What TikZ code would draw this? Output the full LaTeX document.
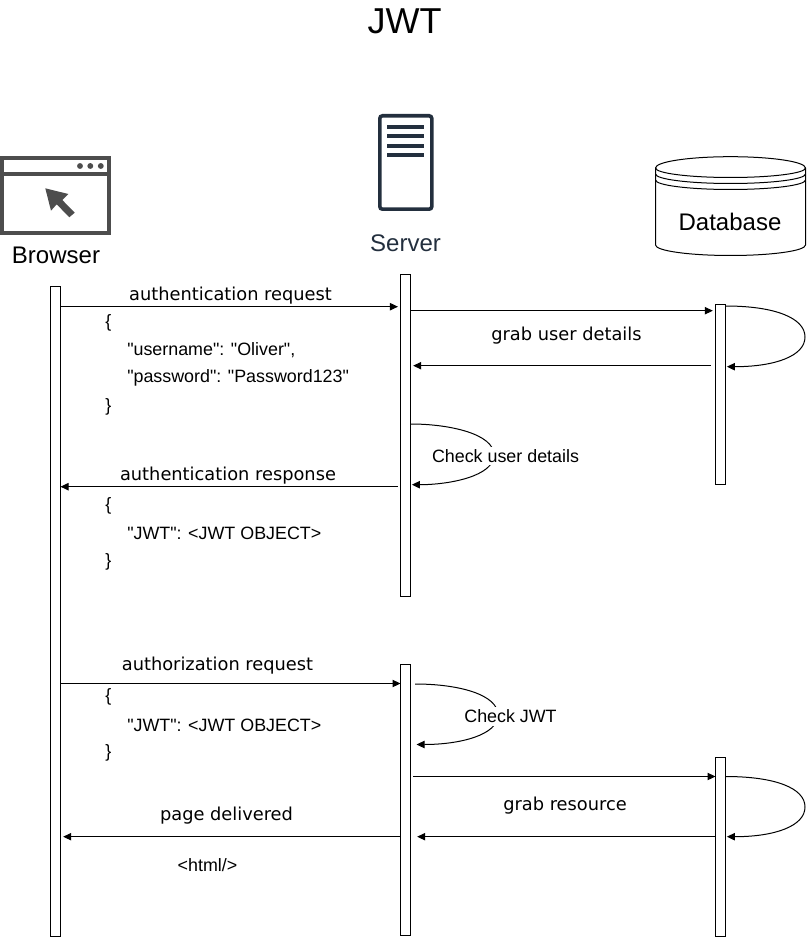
\documentclass[tikz,border=0pt]{standalone}
\usepackage{fontspec}
\setmainfont{Liberation Sans}
\newfontfamily\codefont{Liberation Sans}
\newfontfamily\lblfont{DejaVu Sans}
\usetikzlibrary{arrows.meta,calc}
\definecolor{srv}{HTML}{232F3E}
\definecolor{brw}{HTML}{4D4D4D}
\tikzset{
  bar/.style={draw=black,fill=white,line width=0.75pt,minimum width=7.5pt,inner sep=0pt,outer sep=0pt},
  msg/.style={draw=black,line width=0.75pt,-{Triangle[length=6pt,width=5.5pt]}},
  lbl/.style={font=\lblfont\fontsize{13.35pt}{16pt}\selectfont,inner sep=0pt,anchor=center},
  code/.style={font=\codefont\fontsize{13.4pt}{16pt}\selectfont,inner sep=0pt,anchor=west},
  mid/.style={font=\codefont\fontsize{13.4pt}{16pt}\selectfont,inner sep=0pt,anchor=center},
  head/.style={font=\fontsize{18pt}{22pt}\selectfont,inner sep=0pt,anchor=center},
}
\begin{document}
\begin{tikzpicture}[x=0.75pt,y=-0.75pt]
\useasboundingbox (0,0) rectangle (806,937);
% title
\node[font=\fontsize{27pt}{32pt}\selectfont,inner sep=0pt] (title) at (404.5,21) {JWT};
% browser icon
\draw[brw,line width=2.7pt] (1.8,157.8) rectangle (108.8,233);
\draw[brw,line width=2.7pt] (1.8,174) -- (108.8,174);
\fill[brw] (80,166) circle (2.2pt) (90.3,166) circle (2.2pt) (100.8,166) circle (2.2pt);
\fill[brw] (45.3,188.3) -- (68.3,194) -- (62.3,200) -- (74.7,212.7) -- (69.3,217.3) -- (56.7,204.3) -- (51,210.7) -- cycle;
\node[head] (browser) at (56,255) {Browser};
% server icon
\draw[srv,line width=2.7pt,rounded corners=2pt] (379.8,115.8) rectangle (431.8,209.2);
\draw[srv,line width=3pt] (387,126.7) -- (424,126.7) (387,136) -- (424,136) (387,145.7) -- (424,145.7) (387,155) -- (424,155);
\node[head,text=srv] (server) at (405.5,243) {Server};
% database
\draw[black,line width=0.75pt,fill=white] (655.5,168) -- (655.5,245) arc[start angle=180,end angle=360,x radius=75,y radius=-10.5] -- (805.5,168) arc[start angle=0,end angle=180,x radius=75,y radius=-11.3] -- cycle;
\draw[black,line width=0.75pt] (655.5,168) arc[start angle=180,end angle=360,x radius=75,y radius=-9.5]
  (655.5,174) arc[start angle=180,end angle=360,x radius=75,y radius=-9.5]
  (655.5,180) arc[start angle=180,end angle=360,x radius=75,y radius=-9.5];
\node[head] (database) at (730,222) {Database};
% lifelines
\node[bar,minimum height=487pt] (barA) at (55.5,611.5) {};
\node[bar,minimum height=241.5pt] (barB) at (405.5,435.5) {};
\node[bar,minimum height=203.25pt] (barC) at (405.5,800.4) {};
\node[bar,minimum height=134.25pt] (dbA) at (720.5,394.5) {};
\node[bar,minimum height=134.25pt] (dbB) at (720.5,846.5) {};
% first request
\draw[msg] (barA.east |- 0,306.7) -- ([xshift=-1.9pt]barB.west |- 0,306.7);
\node[lbl] (l1) at (230.5,296) {authentication request};
\node[code] (c1) at (105,323) {\{};
\node[code] (c2) at (127,350) {"username": "Oliver",};
\node[code] (c3) at (127,378) {"password": "Password123"};
\node[code] (c4) at (105,407) {\}};
% db lookup
\draw[msg] (barB.east |- 0,310.7) -- ([xshift=-2pt]dbA.west |- 0,310.7);
\node[lbl] (l2) at (566.5,336) {grab user details};
\draw[msg] ([xshift=-3.4pt]dbA.west |- 0,365.7) -- ([xshift=2pt]barB.east |- 0,365.7);
\draw[msg] (dbA.east |- 0,306) .. controls (775,306) and (805,318) .. (805,337) .. controls (805,356) and (775,366.7) .. ([xshift=1pt]dbA.east |- 0,366.7);
% check user details
\draw[msg] (barB.east |- 0,424) .. controls (450,424) and (494,434) .. (494,455) .. controls (494,476) and (450,484.7) .. ([xshift=1pt]barB.east |- 0,484.7);
\node[mid,fill=white,inner ysep=2.2pt] (l3) at (505.5,456) {Check user details};
% response
\draw[msg] ([xshift=-2pt]barB.west |- 0,486.7) -- (barA.east |- 0,486.7);
\node[lbl] (l4) at (228,476) {authentication response};
\node[code] (c5) at (105,506) {\{};
\node[code] (c6) at (127,533) {"JWT": <JWT OBJECT>};
\node[code] (c7) at (105,562) {\}};
% authorization
\draw[msg] (barA.east |- 0,683.5) -- (barC.west |- 0,683.5);
\node[lbl] (l5) at (217.5,666) {authorization request};
\node[code] (c8) at (105,697) {\{};
\node[code] (c9) at (127,725) {"JWT": <JWT OBJECT>};
\node[code] (c10) at (105,753) {\}};
% check jwt
\draw[msg] ([xshift=3.4pt]barC.east |- 0,684) .. controls (460,684) and (498,695) .. (498,715) .. controls (498,735) and (460,744.5) .. ([xshift=4.5pt]barC.east |- 0,744.5);
\node[mid,fill=white,inner ysep=2.2pt] (l6) at (510.5,716) {Check JWT};
% resource
\draw[msg] ([xshift=2pt]barC.east |- 0,776.5) -- (dbB.west |- 0,776.5);
\node[lbl] (l7) at (565,806) {grab resource};
\draw[msg] (dbB.east |- 0,776.5) .. controls (775,776.5) and (805,788) .. (805,807) .. controls (805,826) and (775,836.7) .. ([xshift=1pt]dbB.east |- 0,836.7);
\draw[msg] (dbB.west |- 0,836.7) -- ([xshift=5pt]barC.east |- 0,836.7);
% delivered
\draw[msg] (barC.west |- 0,836.7) -- ([xshift=2pt]barA.east |- 0,836.7);
\node[lbl] (l8) at (226.5,816) {page delivered};
\node[mid] (c11) at (207.5,865) {<html/>};
\end{tikzpicture}
\end{document}
